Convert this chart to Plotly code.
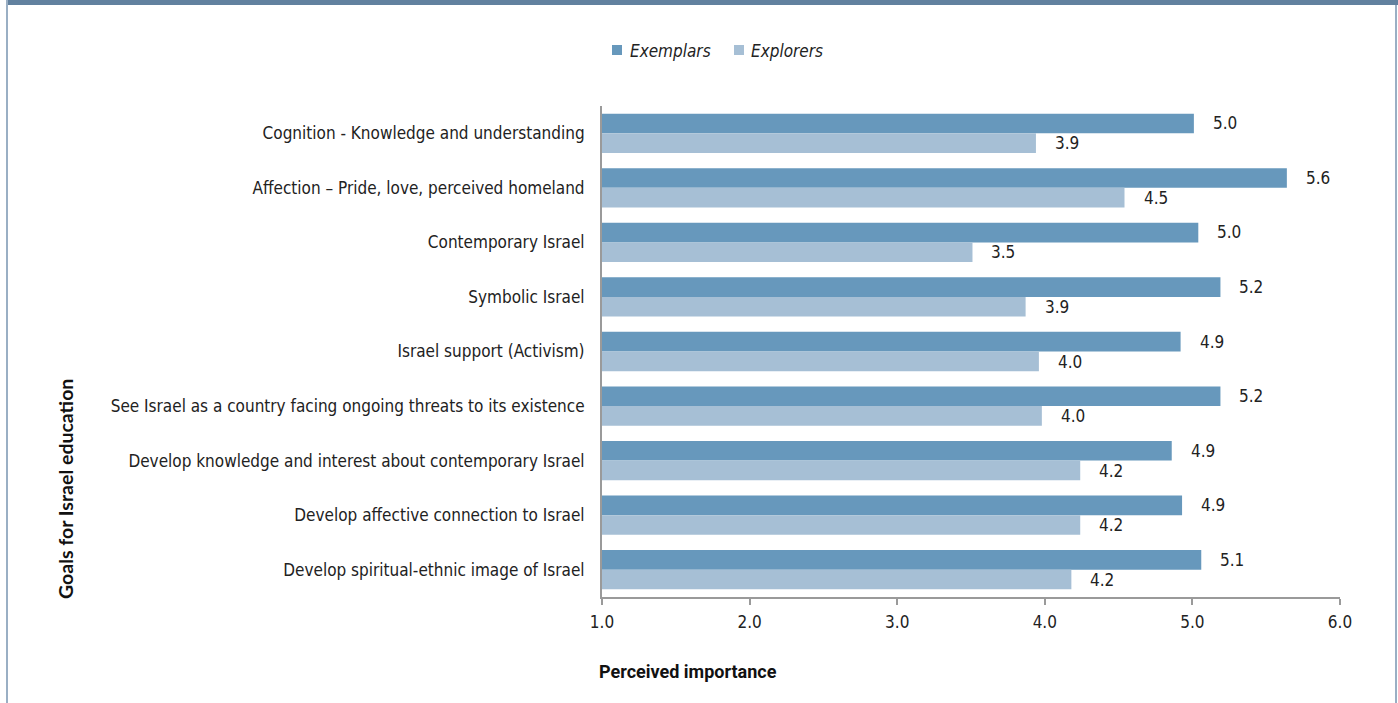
import plotly.graph_objects as go

# Goals for Israel education, listed top to bottom
goals = [
    "Cognition - Knowledge and understanding",
    "Affection – Pride, love, perceived homeland",
    "Contemporary Israel",
    "Symbolic Israel",
    "Israel support (Activism)",
    "See Israel as a country facing ongoing threats to its existence",
    "Develop knowledge and interest about contemporary Israel",
    "Develop affective connection to Israel",
    "Develop spiritual-ethnic image of Israel",
]

# Mean perceived importance per group
exemplars = [5.01, 5.64, 5.04, 5.19, 4.92, 5.19, 4.86, 4.93, 5.06]
explorers = [3.94, 4.54, 3.51, 3.87, 3.96, 3.98, 4.24, 4.24, 4.18]

series_names = ["Exemplars", "Explorers"]
x_ticks = [1.0, 2.0, 3.0, 4.0, 5.0, 6.0]

COL_EXEMPLARS = "#6798BC"
COL_EXPLORERS = "#A6BFD5"
LABEL_FONT = "Liberation Sans Narrow, DejaVu Sans Condensed, Roboto, sans-serif"

W, H = 1398, 703
L, R, T, B = 602, 58, 106, 106
pw, ph = W - L - R, H - T - B


def px_to_paper(x, y):
    return (x - L) / pw, (H - B - y) / ph


fig = go.Figure()
fig.add_trace(go.Bar(
    name=series_names[0], y=goals, x=exemplars, orientation="h",
    marker=dict(color=COL_EXEMPLARS, line=dict(width=0)),
))
fig.add_trace(go.Bar(
    name=series_names[1], y=goals, x=explorers, orientation="h",
    marker=dict(color=COL_EXPLORERS, line=dict(width=0)),
))

# Value labels to the right of each bar
annotations = []
for series, shift in ((exemplars, 10), (explorers, -10)):
    for g, v in zip(goals, series):
        annotations.append(dict(
            x=v, y=g, xref="x", yref="y", text=f"{v:.1f}", showarrow=False,
            xanchor="left", yanchor="middle", xshift=17, yshift=shift,
            font=dict(family=LABEL_FONT, size=17, color="#222222"),
        ))

# Axis titles
ax, ay = px_to_paper(688, 671)
annotations.append(dict(
    x=ax, y=ay, xref="paper", yref="paper", text="<b>Perceived importance</b>",
    showarrow=False, xanchor="center", yanchor="middle",
    font=dict(family="Roboto, sans-serif", size=18, color="#111111"),
))
ax, ay = px_to_paper(65, 489)
annotations.append(dict(
    x=ax, y=ay, xref="paper", yref="paper", text="<b>Goals for Israel education</b>",
    showarrow=False, textangle=-90, xanchor="center", yanchor="middle",
    font=dict(family="Lato, sans-serif", size=19.5, color="#111111"),
))

# Legend: colour keys with italic names
shapes = []
legend_items = [(series_names[0], COL_EXEMPLARS, 612, 628), (series_names[1], COL_EXPLORERS, 734, 749)]
for name, col, sx, tx in legend_items:
    x0, y0 = px_to_paper(sx, 55)
    x1, y1 = px_to_paper(sx + 10, 45)
    shapes.append(dict(type="rect", xref="paper", yref="paper", x0=x0, x1=x1, y0=y0, y1=y1,
                       fillcolor=col, line=dict(width=0)))
    tx_p, ty_p = px_to_paper(tx, 51)
    annotations.append(dict(
        x=tx_p, y=ty_p, xref="paper", yref="paper", text=name, showarrow=False,
        xanchor="left", yanchor="middle",
        font=dict(family=LABEL_FONT, size=17, color="#222222", style="italic"),
    ))

# Frame: dark band along the top, thin rules down the sides
shapes += [
    dict(type="rect", xref="paper", yref="paper",
         x0=px_to_paper(6, 0)[0], x1=px_to_paper(W, 0)[0],
         y0=px_to_paper(0, 0)[1], y1=px_to_paper(0, 5)[1],
         fillcolor="#62819F", line=dict(width=0), layer="above"),
    dict(type="line", xref="paper", yref="paper",
         x0=px_to_paper(7, 0)[0], x1=px_to_paper(7, 0)[0],
         y0=px_to_paper(0, 0)[1], y1=px_to_paper(0, H)[1],
         line=dict(color="#9AAFC4", width=2)),
    dict(type="line", xref="paper", yref="paper",
         x0=px_to_paper(1396, 0)[0], x1=px_to_paper(1396, 0)[0],
         y0=px_to_paper(0, 5)[1], y1=px_to_paper(0, H)[1],
         line=dict(color="#9AAFC4", width=2)),
]

fig.update_layout(
    width=W, height=H,
    margin=dict(l=L, r=R, t=T, b=B, pad=0),
    paper_bgcolor="white", plot_bgcolor="white",
    barmode="group", bargap=0.28, bargroupgap=0,
    showlegend=False,
    annotations=annotations,
    shapes=shapes,
    xaxis=dict(
        range=[1.0, 6.0], tickvals=x_ticks, ticktext=[f"{t:.1f}" for t in x_ticks],
        showgrid=False, zeroline=False, showline=True, linecolor="#9a9a9a", linewidth=2,
        ticks="outside", ticklen=6, tickwidth=2, tickcolor="#9a9a9a",
        ticklabelstandoff=3,
        tickfont=dict(family=LABEL_FONT, size=17, color="#222222"),
    ),
    yaxis=dict(
        autorange="reversed", showgrid=False, showline=True, linecolor="#9a9a9a", linewidth=2,
        ticks="", ticklabelstandoff=12,
        tickfont=dict(family=LABEL_FONT, size=17, color="#222222"),
    ),
)

fig.write_html("out.html")
